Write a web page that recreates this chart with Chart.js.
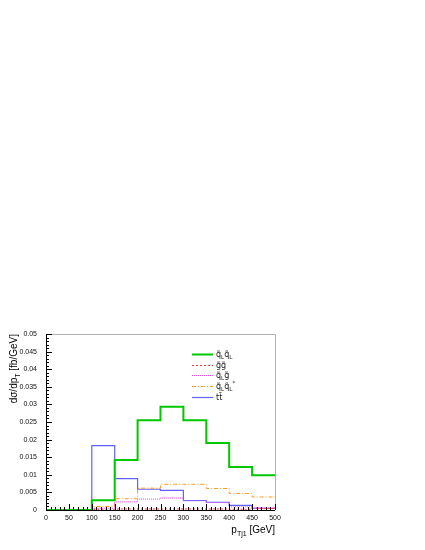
<!DOCTYPE html>
<html>
<head>
<meta charset="utf-8">
<script src="https://cdn.jsdelivr.net/npm/chart.js@4.4.0/dist/chart.umd.min.js"></script>
<style>
  html, body { margin: 0; padding: 0; background: #fff; }
  #wrap { width: 425px; height: 550px; }
</style>
</head>
<body>
<div id="wrap"><canvas id="chart"></canvas></div>
<script>
// histogram bins (GeV) and the five channels, one value per 50 GeV bin
var binEdges = [0, 50, 100, 150, 200, 250, 300, 350, 400, 450, 500];
var sqLsqL   = [0, 0, 0.0028, 0.0142, 0.0255, 0.0293, 0.0255, 0.0190, 0.0122, 0.0099];
var gogo     = [0, 0, 0.0002, 0.0003, 0.0003, 0.0003, 0.0003, 0.0003, 0.0002, 0.0004];
var sqLgo    = [0, 0, 0.0005, 0.0023, 0.0031, 0.0034, 0.0026, 0.0021, 0.0009, 0.0006];
var sqLsqLs  = [0, 0, 0.0010, 0.0032, 0.0062, 0.0073, 0.0073, 0.0061, 0.0047, 0.0037];
var ttbar    = [0, 0, 0.0183, 0.0089, 0.0059, 0.0056, 0.0027, 0.0022, 0.0013, 0.0005];

// legend labels: _X subscript, ^X superscript
var seriesNames = ["q\u0303_Lq\u0303_L", "g\u0303g\u0303", "q\u0303_Lg\u0303", "q\u0303_Lq\u0303_L^*", "tt\u0304"];
var yTickValues = [0, 0.005, 0.01, 0.015, 0.02, 0.025, 0.03, 0.035, 0.04, 0.045, 0.05];
var xTickValues = [0, 50, 100, 150, 200, 250, 300, 350, 400, 450, 500];
var yTitle = "d\u03c3/dp_T [fb/GeV]";
var xTitle = "p_T_j_1 [GeV]";

var FONT = "'Liberation Sans', Arial, sans-serif";
var LEGFONT = "'DejaVu Sans', sans-serif";

// turn bin contents into a step outline
function steps(vals) {
  var pts = [];
  for (var i = 0; i < vals.length; i++) {
    pts.push({x: binEdges[i], y: vals[i]});
    pts.push({x: binEdges[i + 1], y: vals[i]});
  }
  return pts;
}

function parseRich(s) {
  var parts = [];
  for (var i = 0; i < s.length; i++) {
    var c = s[i];
    if ((c === "_" || c === "^") && i + 1 < s.length) {
      parts.push({t: s[i + 1], mode: c === "_" ? "sub" : "sup"});
      i++;
    } else if (/[\u0300-\u036f]/.test(c) && parts.length) {
      parts[parts.length - 1].t += c;
    } else {
      if (parts.length && parts[parts.length - 1].mode === "n") parts[parts.length - 1].t += c;
      else parts.push({t: c, mode: "n"});
    }
  }
  return parts;
}

function drawRich(ctx, str, x, y, size, align, family) {
  var parts = parseRich(str);
  var fam = family || FONT;
  var w = 0;
  parts.forEach(function(p) {
    ctx.font = (p.mode === "n" ? size : size * 0.7) + "px " + fam;
    w += ctx.measureText(p.t).width;
  });
  var cx = align === "right" ? x - w : x;
  ctx.textAlign = "left";
  ctx.textBaseline = "alphabetic";
  parts.forEach(function(p) {
    var fs = p.mode === "n" ? size : size * 0.7;
    ctx.font = fs + "px " + fam;
    var dy = p.mode === "sub" ? size * 0.3 : (p.mode === "sup" ? -size * 0.45 : 0);
    ctx.fillText(p.t, cx, y + dy);
    cx += ctx.measureText(p.t).width;
  });
}

var styles = [
  {color: "#00c800", width: 2, dash: []},
  {color: "#ff3b3b", width: 1, dash: [2, 2]},
  {color: "#ee44ee", width: 1, dash: [1, 1]},
  {color: "#ff9920", width: 1, dash: [4, 2, 1, 2]},
  {color: "rgba(70,70,255,0.85)", width: 1.2, dash: []}
];
var seriesData = [sqLsqL, gogo, sqLgo, sqLsqLs, ttbar];

var datasets = seriesData.map(function(vals, i) {
  return {
    label: seriesNames[i],
    data: steps(vals),
    borderColor: styles[i].color,
    borderWidth: styles[i].width,
    borderDash: styles[i].dash,
    pointRadius: 0,
    fill: false,
    tension: 0,
    order: i === 0 ? 0 : 1
  };
});

var decor = {
  id: "decor",
  afterDraw: function(chart) {
    var ctx = chart.ctx;
    var a = chart.chartArea;
    var xs = chart.scales.x, ys = chart.scales.y;
    ctx.save();
    // frame
    ctx.lineWidth = 1;
    ctx.strokeStyle = "#b0b0b0";
    ctx.beginPath();
    ctx.moveTo(a.left, a.top + 0.5); ctx.lineTo(a.right + 0.5, a.top + 0.5);
    ctx.lineTo(a.right + 0.5, a.bottom);
    ctx.stroke();
    ctx.strokeStyle = "#000";
    ctx.beginPath();
    ctx.moveTo(a.left + 0.5, a.top); ctx.lineTo(a.left + 0.5, a.bottom + 0.5);
    ctx.lineTo(a.right, a.bottom + 0.5);
    ctx.stroke();
    // ticks pointing inwards
    ctx.beginPath();
    for (var v = 0; v <= 50; v++) {
      var py = Math.round(ys.getPixelForValue(v * 0.001)) + 0.5;
      var len = v % 5 === 0 ? 6 : 3;
      ctx.moveTo(a.left, py); ctx.lineTo(a.left + len, py);
    }
    for (var g = 0; g <= 500; g += 10) {
      var px = Math.round(xs.getPixelForValue(g)) + 0.5;
      var l2 = g % 50 === 0 ? 6 : 3;
      ctx.moveTo(px, a.bottom); ctx.lineTo(px, a.bottom - l2);
    }
    ctx.stroke();

    // legend
    ctx.fillStyle = "#222";
    var ly = [354, 365, 375, 386, 397];
    datasets.forEach(function(ds, i) {
      ctx.strokeStyle = ds.borderColor;
      ctx.lineWidth = ds.borderWidth;
      ctx.setLineDash(ds.borderDash);
      ctx.beginPath();
      ctx.moveTo(192, ly[i] + 0.5); ctx.lineTo(213, ly[i] + 0.5);
      ctx.stroke();
      ctx.setLineDash([]);
      drawRich(ctx, ds.label, 216, ly[i] + 3, 8, "left", LEGFONT);
    });

    // axis titles
    ctx.fillStyle = "#000";
    drawRich(ctx, xTitle, a.right, 533, 10, "right");
    ctx.translate(17, a.top);
    ctx.rotate(-Math.PI / 2);
    drawRich(ctx, yTitle, 0, 0, 10, "right");
    ctx.restore();
  }
};

new Chart(document.getElementById("chart"), {
  type: "line",
  data: { datasets: datasets },
  options: {
    responsive: true,
    maintainAspectRatio: false,
    animation: false,
    layout: { padding: { top: 334, right: 150, left: 0, bottom: 0 } },
    plugins: { legend: { display: false }, tooltip: { enabled: false } },
    scales: {
      x: {
        type: "linear", min: 0, max: 500,
        afterBuildTicks: function(s) { s.ticks = xTickValues.map(function(v) { return {value: v}; }); },
        afterFit: function(s) { s.height = 40; },
        grid: { display: false, drawTicks: false },
        border: { display: false },
        ticks: { color: "#111", padding: 4, maxRotation: 0, font: { family: FONT, size: 7 } }
      },
      y: {
        type: "linear", min: 0, max: 0.05,
        afterBuildTicks: function(s) { s.ticks = yTickValues.map(function(v) { return {value: v}; }); },
        afterFit: function(s) { s.width = 46; },
        grid: { display: false, drawTicks: false },
        border: { display: false },
        ticks: {
          color: "#111", padding: 9, font: { family: FONT, size: 7 },
          callback: function(v) { return String(+v.toFixed(3)); }
        }
      }
    }
  },
  plugins: [decor]
});
</script>
</body>
</html>
